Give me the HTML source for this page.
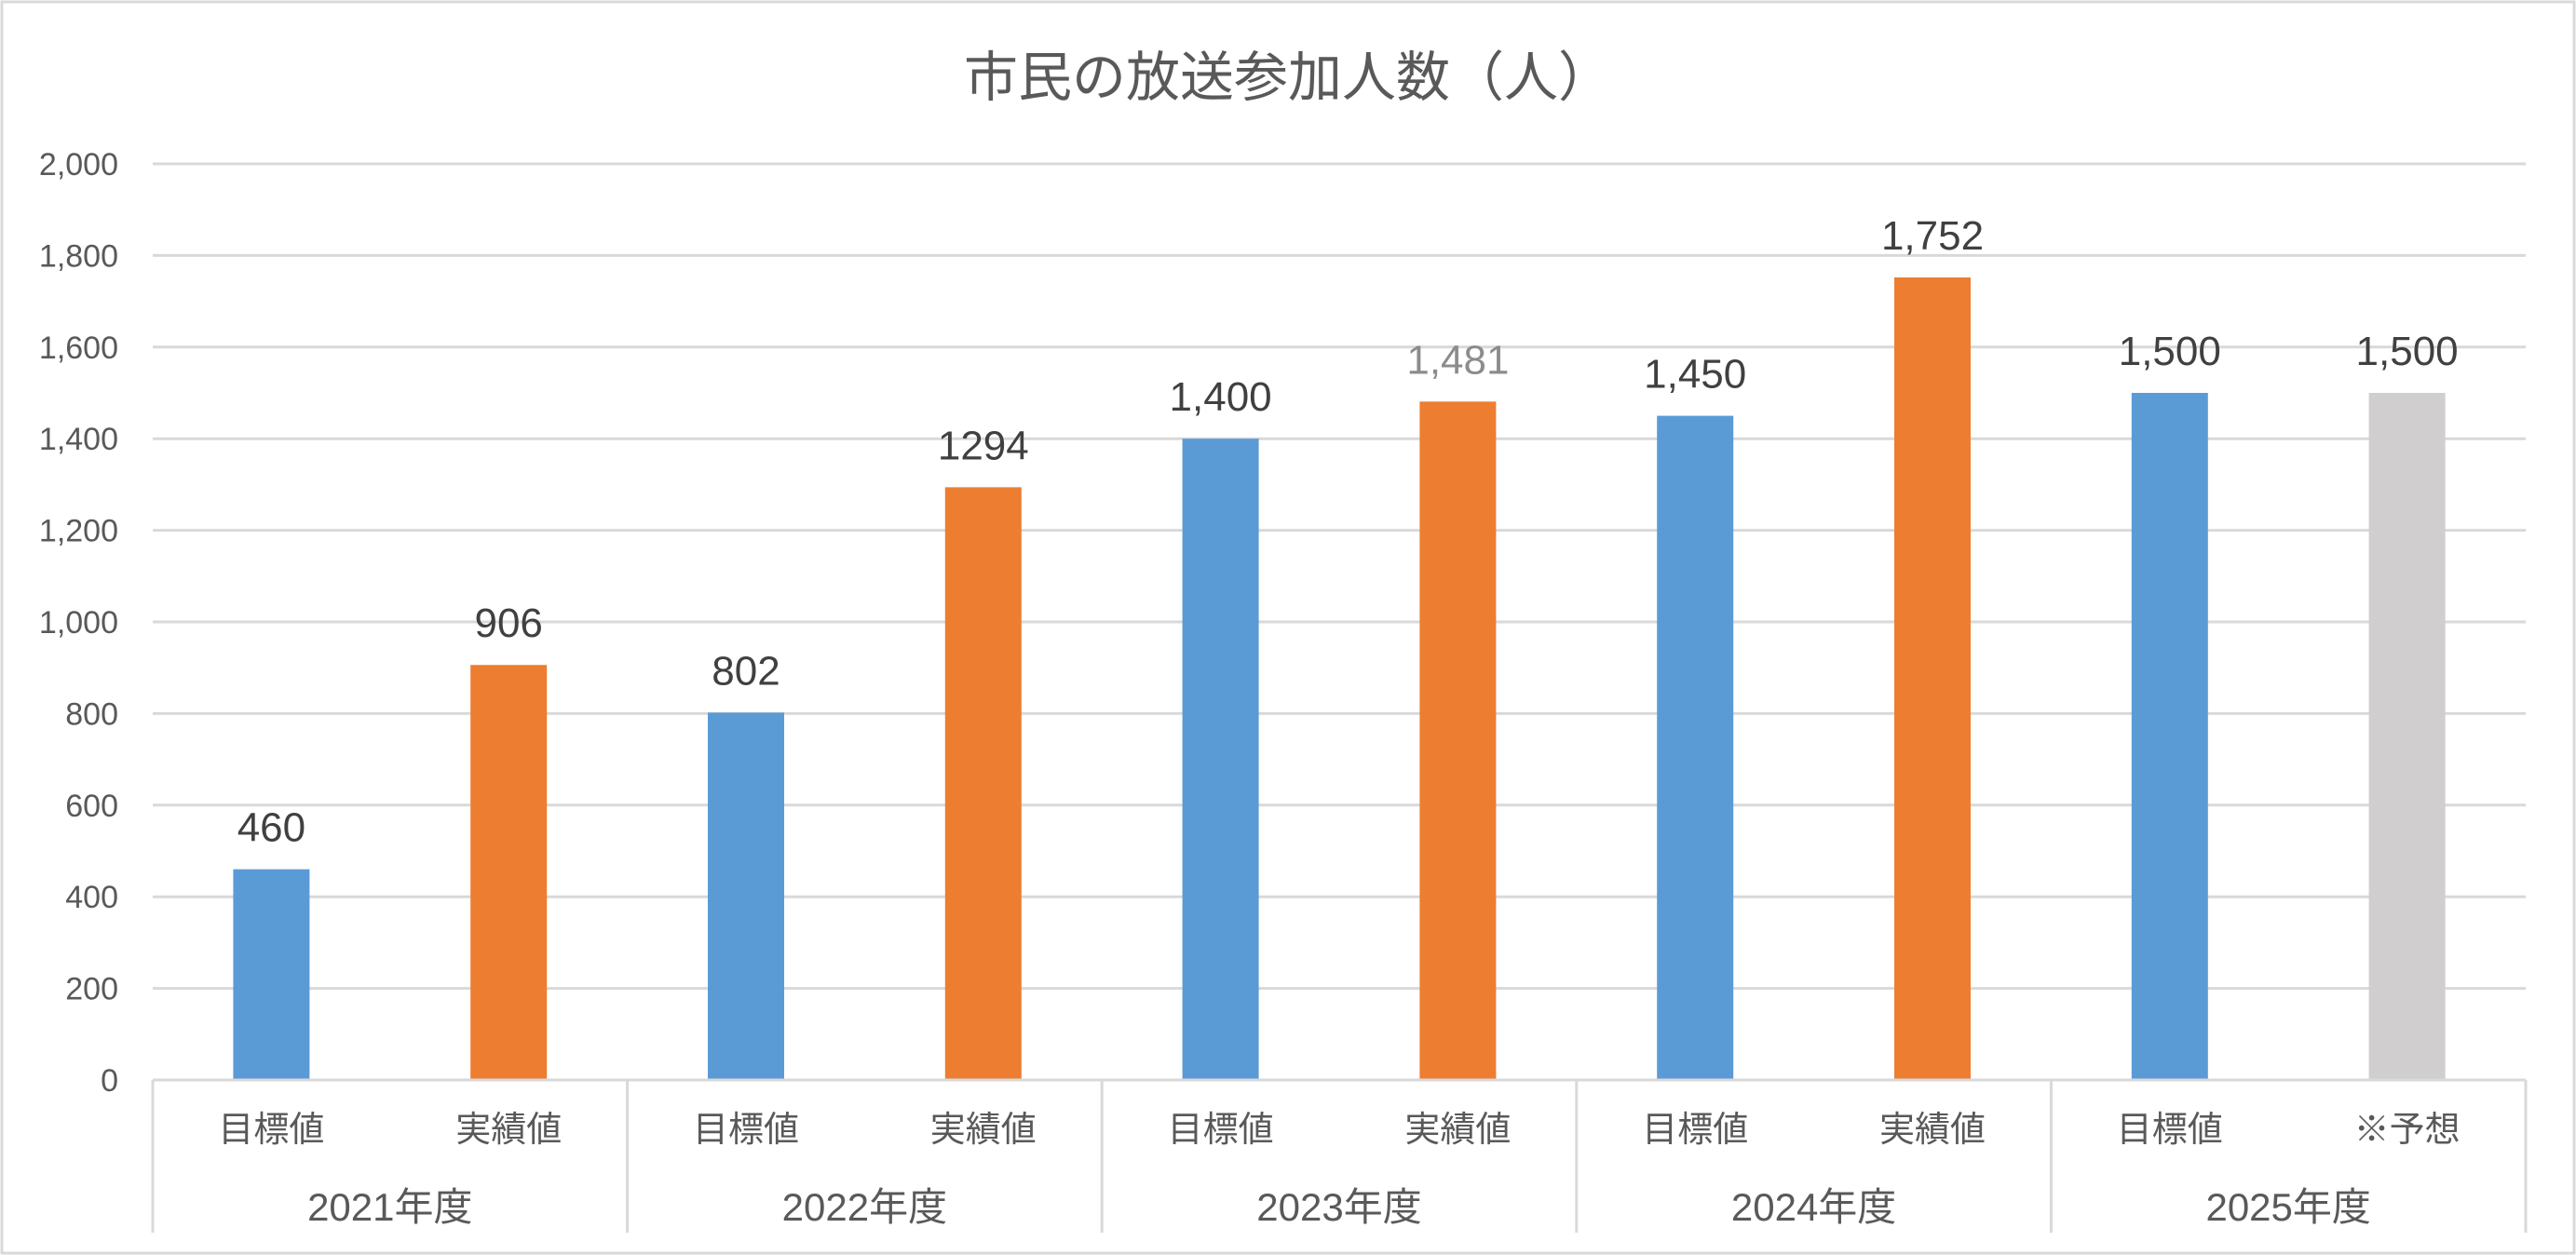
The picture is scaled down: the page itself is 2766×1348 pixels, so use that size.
<!DOCTYPE html>
<html><head><meta charset="utf-8"><style>
html,body{margin:0;padding:0;background:#fff;}
svg{display:block;}
text{font-family:"Liberation Sans","Noto Sans CJK JP",sans-serif;}
</style></head><body>
<svg id="chart" width="2766" height="1348" viewBox="0 0 2766 1348" xmlns="http://www.w3.org/2000/svg">
<rect x="2" y="2" width="2762" height="1344" fill="#fff" stroke="#d9d9d9" stroke-width="3"/>
<text x="1383" y="103" font-size="58" fill="#595959" text-anchor="middle">市民の放送参加人数（人）</text>
<g id="grid"></g>
<g id="yaxis"></g>
<g id="bars"></g>
<g id="xaxis"></g>
</svg>
<script>
const years = ["2021年度","2022年度","2023年度","2024年度","2025年度"];
const subLabels = ["目標値","実績値","目標値","実績値","目標値","実績値","目標値","実績値","目標値","※予想"];
const values = [460,906,802,1294,1400,1481,1450,1752,1500,1500];
const valueLabels = ["460","906","802","1294","1,400","1,481","1,450","1,752","1,500","1,500"];
const seriesKind = ["target","actual","target","actual","target","actual","target","actual","target","forecast"];
const yTicks = [0,200,400,600,800,1000,1200,1400,1600,1800,2000];
const yTickLabels = ["0","200","400","600","800","1,000","1,200","1,400","1,600","1,800","2,000"];

const NS="http://www.w3.org/2000/svg";
const L=164,R=2712,B=1160,T=176,yMax=2000;
const y=v=>B-(v/yMax)*(B-T);
const slot=(R-L)/subLabels.length;
const x=i=>L+slot*(i+0.5);
const barW=82;
const colors={target:"#5b9bd5",actual:"#ed7d31",forecast:"#d0cece"};
function mk(tag,attrs,parent){const e=document.createElementNS(NS,tag);for(const k in attrs)e.setAttribute(k,attrs[k]);parent.appendChild(e);return e;}
const grid=document.getElementById('grid'),yax=document.getElementById('yaxis'),bars=document.getElementById('bars'),xax=document.getElementById('xaxis');
yTicks.forEach((t,i)=>{
  if(t>0){const g=mk('line',{x1:L,x2:R,y1:y(t),y2:y(t),stroke:'#d9d9d9','stroke-width':3},grid);
  
  }
  const tx=mk('text',{x:127,y:y(t)+12,'font-size':34,fill:'#595959','text-anchor':'end'},yax);
  tx.textContent=yTickLabels[i];
  
  
});
values.forEach((v,i)=>{
  const r=mk('rect',{x:x(i)-barW/2,y:y(v),width:barW,height:B-y(v),fill:colors[seriesKind[i]]},bars);
  
  
  const lb=mk('text',{x:x(i),y:y(v)-30,'font-size':44,fill:i===5?'#8c8c8c':'#404040','text-anchor':'middle'},bars);
  lb.textContent=valueLabels[i];
  
  
  const sl=mk('text',{x:x(i),y:1226,'font-size':38,fill:'#595959','text-anchor':'middle'},xax);
  sl.textContent=subLabels[i];
  
  
});
const base=mk('line',{x1:L,x2:R,y1:B,y2:B,stroke:'#d9d9d9','stroke-width':3},xax);


const gw=(R-L)/years.length;
for(let j=0;j<=years.length;j++){
  const vl=mk('line',{x1:L+gw*j,x2:L+gw*j,y1:B,y2:1324,stroke:'#d9d9d9','stroke-width':3},xax);
  
  
}
years.forEach((yr,j)=>{
  const t=mk('text',{x:L+gw*(j+0.5),y:1311,'font-size':42,fill:'#595959','text-anchor':'middle'},xax);
  t.textContent=yr;
  
  
});
</script>
</body></html>
